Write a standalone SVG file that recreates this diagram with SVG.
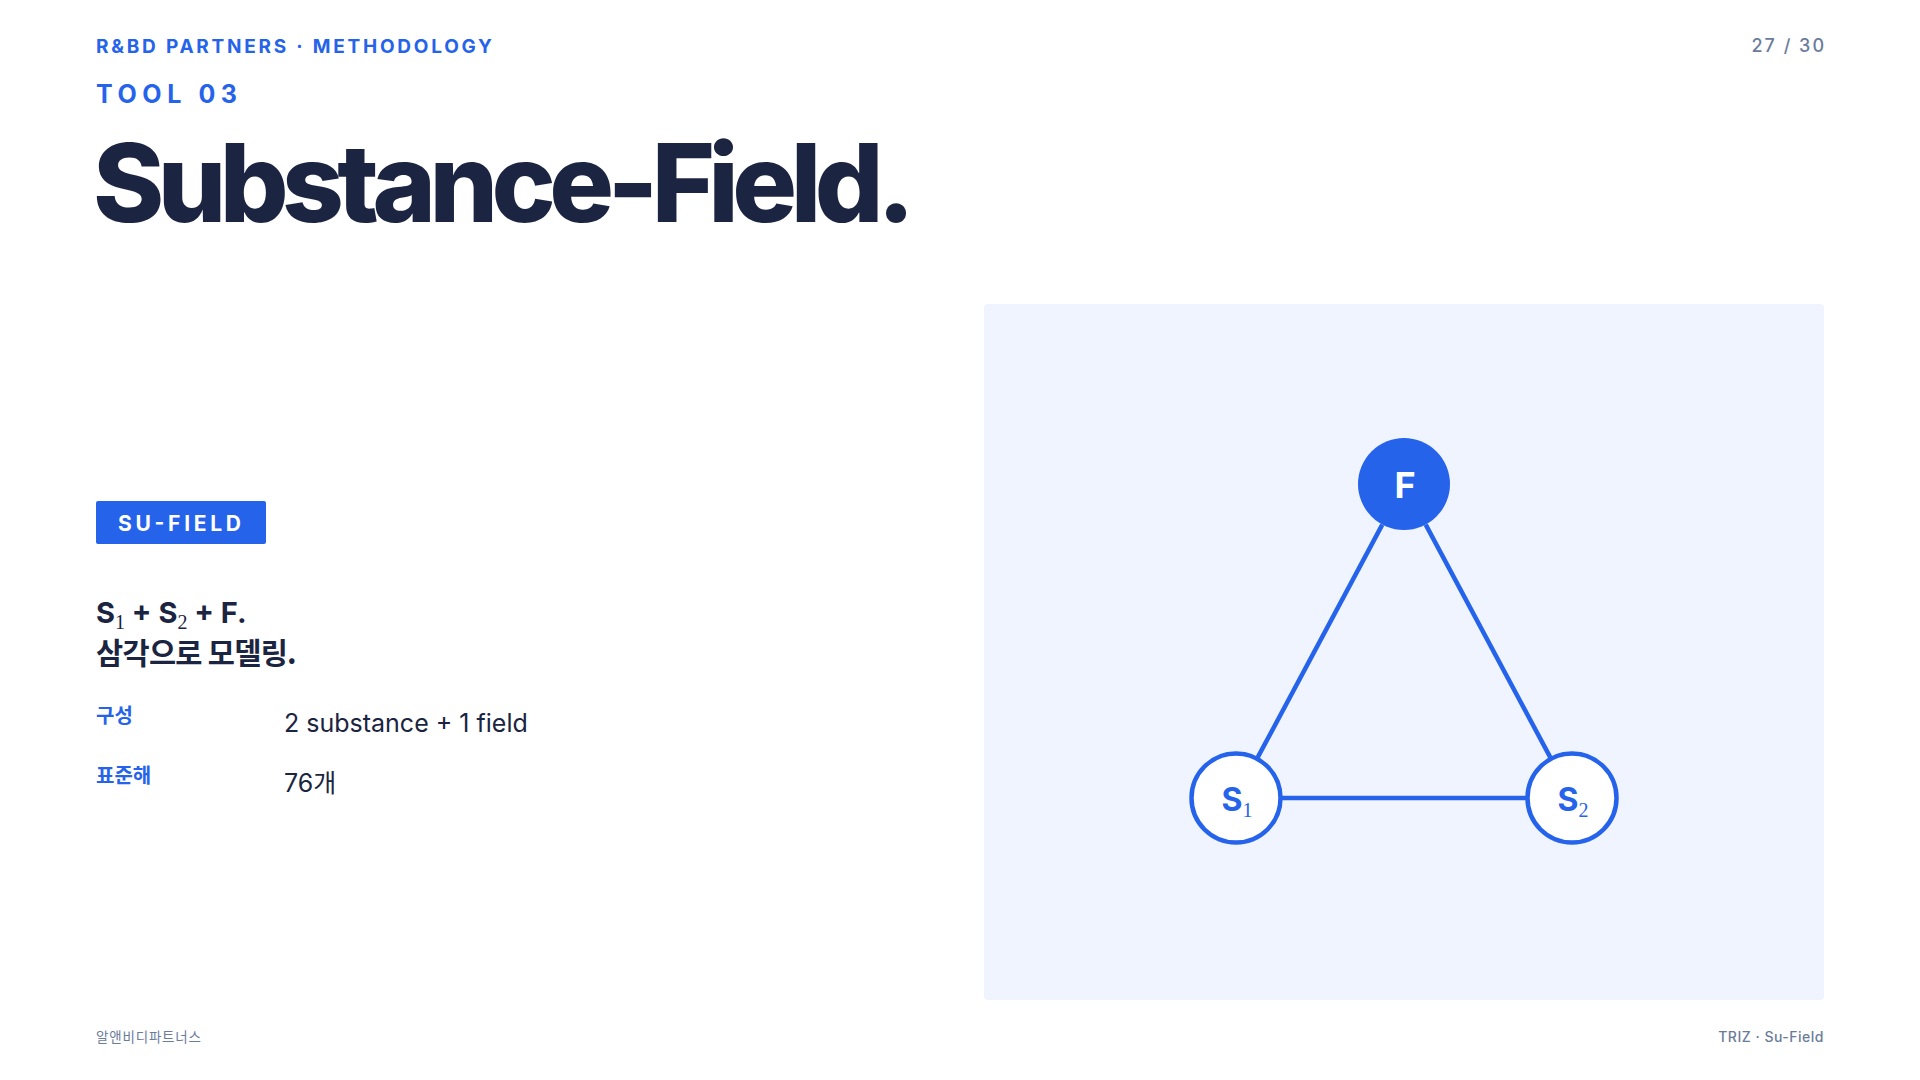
<svg xmlns="http://www.w3.org/2000/svg" width="1920" height="1080" viewBox="0 0 1920 1080">
<style>
.sans{font-family:Inter,"Noto Sans","Liberation Sans","Noto Sans CJK KR",sans-serif}
.kr{font-family:"Noto Sans CJK KR","Noto Sans",sans-serif}
.blue{fill:#2563EB}
.navy{fill:#1B2440}
.grey{fill:#6B7C9B}
.sub{font-family:"Liberation Serif","DejaVu Serif",serif;font-weight:400}
.edge{stroke:#2563EB;stroke-width:4.5;fill:none}
.snode{fill:#FFFFFF;stroke:#2563EB;stroke-width:4.5}
</style>
<rect width="1920" height="1080" fill="#FFFFFF"/>
<g id="header">
<text class="sans blue" x="96" y="53" font-size="19" font-weight="700" textLength="396" lengthAdjust="spacing">R&amp;BD PARTNERS · METHODOLOGY</text>
<text class="sans blue" x="96" y="102.5" font-size="25" font-weight="700" textLength="141" lengthAdjust="spacing">TOOL 03</text>
<text class="sans navy" x="93" y="221.5" font-size="108" font-weight="800" textLength="822" lengthAdjust="spacing">Substance-Field.</text>
<text class="sans grey" x="1826" y="51.5" font-size="18" font-weight="500" text-anchor="end" letter-spacing="2">27 / 30</text>
</g>
<g id="left">
<rect x="96" y="501" width="170" height="43" rx="2" fill="#2563EB"/>
<text class="sans" x="118" y="530.5" font-size="21" font-weight="700" fill="#FFFFFF" textLength="123" lengthAdjust="spacing">SU-FIELD</text>
<text class="sans navy" x="96" y="623" font-size="29" font-weight="700" letter-spacing="0">S<tspan class="sub" font-size="20" dy="6">1</tspan><tspan dy="-6"> + S</tspan><tspan class="sub" font-size="20" dy="6">2</tspan><tspan dy="-6"> + F.</tspan></text>
<text class="kr navy" x="96" y="664" font-size="29.5" font-weight="700" letter-spacing="-0.7">삼각으로 모델링.</text>
<text class="kr blue" x="96" y="723" font-size="20" font-weight="700">구성</text>
<text class="sans navy" x="284" y="732" font-size="25" font-weight="400">2 substance + 1 field</text>
<text class="kr blue" x="96" y="783" font-size="20" font-weight="700">표준해</text>
<text class="sans navy" x="284" y="792" font-size="25" font-weight="400">76<tspan class="kr">개</tspan></text>
</g>
<rect id="panel" x="984" y="304" width="840" height="696" rx="4" fill="#EFF4FE"/>
<g id="connectors">
<line class="edge" x1="1382.3" y1="524.6" x2="1257.7" y2="757.4"/>
<line class="edge" x1="1425.7" y1="524.6" x2="1550.3" y2="757.4"/>
<line class="edge" x1="1282" y1="798" x2="1526" y2="798"/>
</g>
<g id="node-F">
<circle cx="1404" cy="484" r="46" fill="#2563EB"/>
<text class="sans" x="1405" y="497.5" font-size="36" font-weight="700" fill="#FFFFFF" text-anchor="middle">F</text>
</g>
<g id="node-S1">
<circle class="snode" cx="1236" cy="798" r="44.5"/>
<text class="sans blue" x="1237" y="811" font-size="32" font-weight="700" text-anchor="middle">S<tspan class="sub" font-size="20" dy="6">1</tspan></text>
</g>
<g id="node-S2">
<circle class="snode" cx="1572" cy="798" r="44.5"/>
<text class="sans blue" x="1573" y="811" font-size="32" font-weight="700" text-anchor="middle">S<tspan class="sub" font-size="20" dy="6">2</tspan></text>
</g>
<g id="footer">
<text class="kr grey" x="96" y="1042" font-size="13.5" font-weight="400" letter-spacing="0.8">알앤비디파트너스</text>
<text class="sans grey" x="1824" y="1042" font-size="14" font-weight="500" text-anchor="end" letter-spacing="0.5">TRIZ · Su-Field</text>
</g>
</svg>
